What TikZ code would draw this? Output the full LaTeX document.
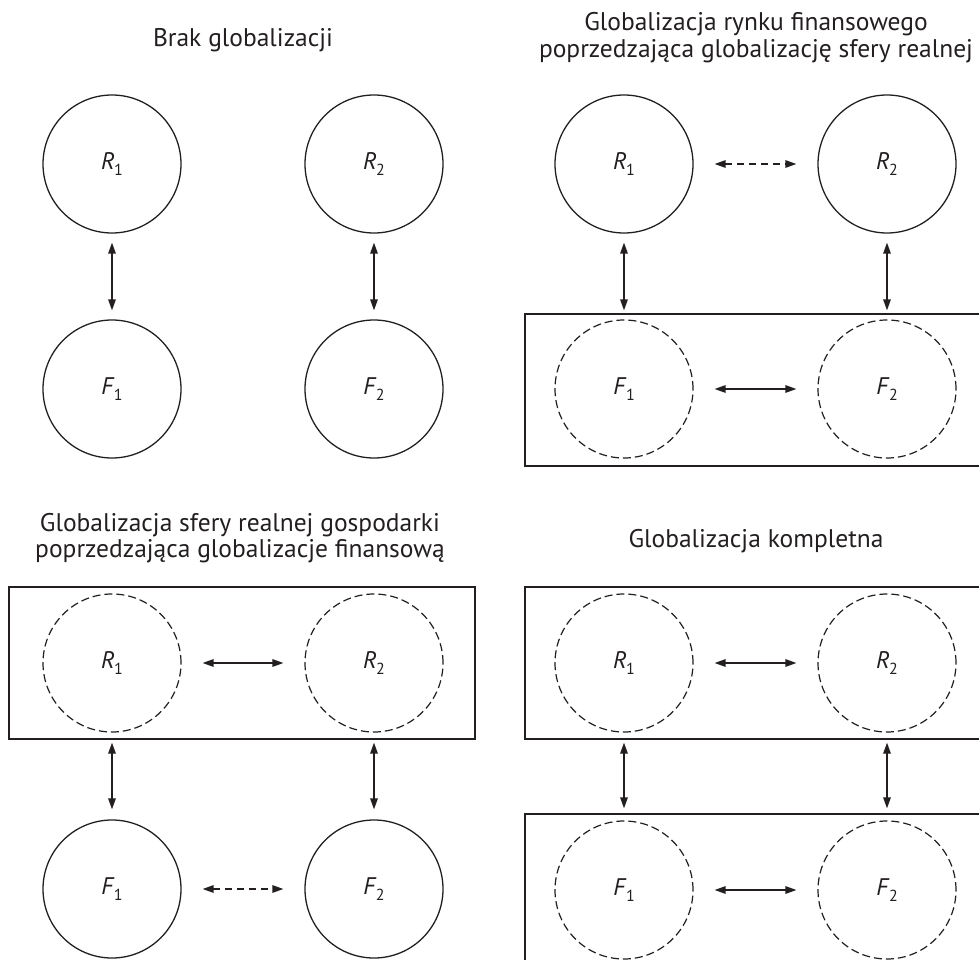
\documentclass[tikz,border=0pt]{standalone}
\usepackage{fontspec}
\setmainfont{PT Sans}
\usetikzlibrary{arrows.meta}
\definecolor{ink}{HTML}{231F20}
\newcommand\lbl[2]{\textit{#1}\kern-0.5pt\raisebox{-6.5pt}{\fontsize{16}{16}\selectfont #2}}
\begin{document}
\begin{tikzpicture}[x=1pt,y=-1pt,
  circ/.style={circle,draw=ink,text=ink,line width=1.3pt,minimum size=138pt,inner sep=0pt,font=\fontsize{24}{24}\selectfont},
  dcirc/.style={circ,line width=1.2pt,dash pattern=on 8pt off 4pt},
  box/.style={draw=ink,line width=1.3pt,inner sep=0pt,minimum width=465pt,minimum height=152pt},
  title/.style={anchor=base,text=ink,inner sep=0pt,font=\fontsize{25.5}{27}\selectfont},
  link/.style={draw=ink,line width=1.4pt,{Triangle[length=11pt,width=7.5pt]}-{Triangle[length=11pt,width=7.5pt]}},
  hlink/.style={link,shorten <=21pt,shorten >=21pt},
  dlink/.style={hlink,dash pattern=on 7pt off 5pt}
]
\fill[white] (0,0) rectangle (979,960);
\useasboundingbox (0,0) rectangle (979,960);

% titles
\node[title] (t1) at (243,47) {Brak globalizacji};
\node[title] (t2a) at (756,31) {Globalizacja rynku finansowego};
\node[title] (t2b) at (756,58) {poprzedzająca globalizację sfery realnej};
\node[title] (t3a) at (240,531) {Globalizacja sfery realnej gospodarki};
\node[title] (t3b) at (240,557) {poprzedzająca globalizacje finansową};
\node[title] (t4) at (756,547) {Globalizacja kompletna};

% quadrant 1
\node[circ] (R1a) at (112,164) {\lbl{R}{1}};
\node[circ] (R2a) at (374,164) {\lbl{R}{2}};
\node[circ] (F1a) at (112,389) {\lbl{F}{1}};
\node[circ] (F2a) at (374,389) {\lbl{F}{2}};
\draw[link,shorten <=9pt,shorten >=9pt] (R1a) -- (F1a);
\draw[link,shorten <=9pt,shorten >=9pt] (R2a) -- (F2a);

% quadrant 2
\node[box] (Bb) at (757.5,390) {};
\node[circ] (R1b) at (624,164) {\lbl{R}{1}};
\node[circ] (R2b) at (887,164) {\lbl{R}{2}};
\node[dcirc] (F1b) at (624,389) {\lbl{F}{1}};
\node[dcirc] (F2b) at (887,389) {\lbl{F}{2}};
\draw[dlink] (R1b) -- (R2b);
\draw[hlink] (F1b) -- (F2b);
\draw[link,shorten <=9pt,shorten >=3pt] (R1b) -- (R1b |- Bb.north);
\draw[link,shorten <=9pt,shorten >=3pt] (R2b) -- (R2b |- Bb.north);

% quadrant 3
\node[box,minimum width=466pt] (Bc) at (242,663) {};
\node[dcirc] (R1c) at (112,663) {\lbl{R}{1}};
\node[dcirc] (R2c) at (374,663) {\lbl{R}{2}};
\node[circ] (F1c) at (112,889) {\lbl{F}{1}};
\node[circ] (F2c) at (374,889) {\lbl{F}{2}};
\draw[hlink] (R1c) -- (R2c);
\draw[dlink] (F1c) -- (F2c);
\draw[link,shorten <=3pt,shorten >=10pt] (R1c |- Bc.south) -- (F1c);
\draw[link,shorten <=3pt,shorten >=10pt] (R2c |- Bc.south) -- (F2c);

% quadrant 4
\node[box] (Bd) at (757.5,663) {};
\node[box] (Be) at (757.5,890) {};
\node[dcirc] (R1d) at (624,663) {\lbl{R}{1}};
\node[dcirc] (R2d) at (887,663) {\lbl{R}{2}};
\node[dcirc] (F1d) at (624,890) {\lbl{F}{1}};
\node[dcirc] (F2d) at (887,890) {\lbl{F}{2}};
\draw[hlink] (R1d) -- (R2d);
\draw[hlink] (F1d) -- (F2d);
\draw[link,shorten <=3pt,shorten >=5pt] (R1d |- Bd.south) -- (R1d |- Be.north);
\draw[link,shorten <=3pt,shorten >=5pt] (R2d |- Bd.south) -- (R2d |- Be.north);
\end{tikzpicture}
\end{document}
